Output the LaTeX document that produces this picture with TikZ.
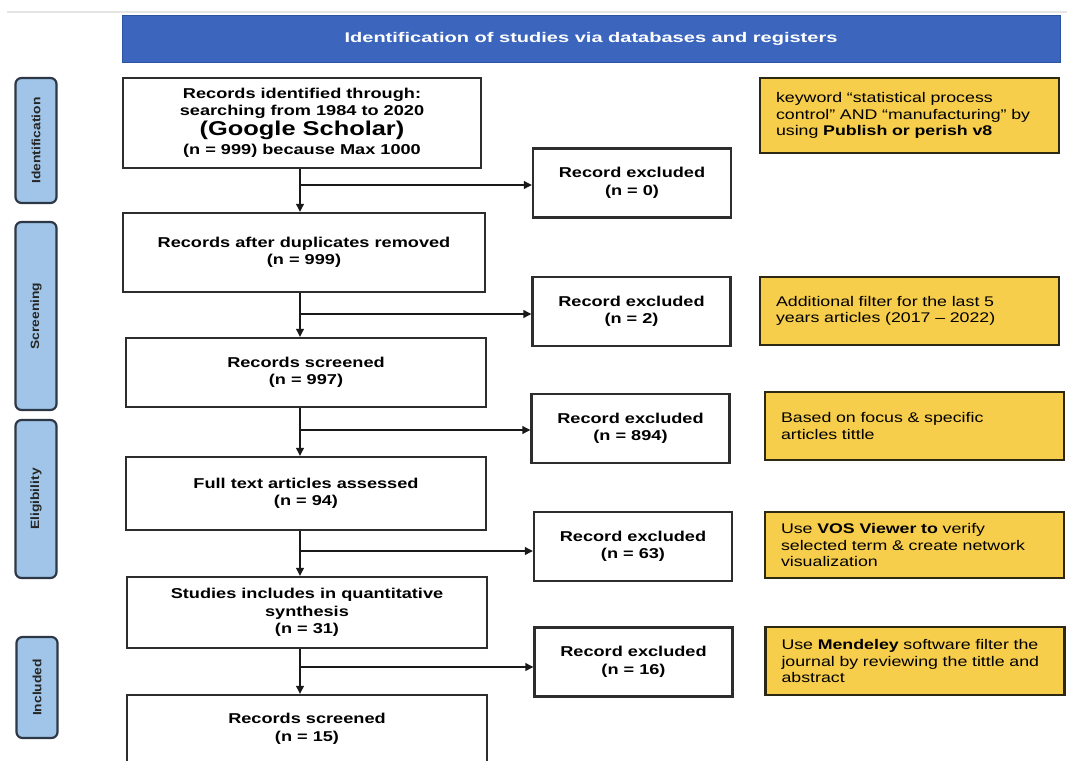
\documentclass[tikz,border=0pt]{standalone}
\usepackage{fontspec}
\setmainfont{Liberation Sans}[FakeStretch=1.27]
\newfontfamily\hdrfont{Liberation Sans}[FakeStretch=1.43]
\newfontfamily\lblfont{Liberation Sans}[FakeStretch=1.15]
\usetikzlibrary{arrows.meta}
\definecolor{hdrblue}{RGB}{60,102,190}
\definecolor{hdrborder}{RGB}{44,82,160}
\definecolor{notefill}{RGB}{247,206,75}
\definecolor{noteborder}{RGB}{45,40,20}
\definecolor{phasefill}{RGB}{160,197,232}
\definecolor{phaseborder}{RGB}{45,55,70}
\definecolor{boxborder}{RGB}{45,45,45}
\begin{document}
\begin{tikzpicture}[x=1pt,y=-1pt,
  mainbox/.style={draw=boxborder, line width=2.1pt, fill=white, align=center,
    font=\bfseries\fontsize{14.3}{17.5}\selectfont, inner sep=0pt},
  exclbox/.style={mainbox, minimum width=198pt, minimum height=69pt},
  notebox/.style={draw=noteborder, line width=2.1pt, fill=notefill, align=left,
    font=\fontsize{14}{16.5}\selectfont, inner xsep=16pt, inner ysep=0pt,
    minimum width=299pt, text width=267pt},
  phase/.style={draw=phaseborder, line width=2.2pt, fill=phasefill, rounded corners=6pt,
    minimum height=41pt, font=\lblfont\bfseries\fontsize{12}{14}\selectfont,
    text=black!85, rotate=90, inner sep=0pt},
  header/.style={draw=hdrborder, line width=1pt, fill=hdrblue, text=white,
    font=\hdrfont\bfseries\fontsize{14}{16}\selectfont, minimum width=938pt,
    minimum height=46pt, inner sep=0pt},
  conn/.style={draw=black!90, line width=2.3pt},
  arr/.style={conn, -{Triangle[length=8pt,width=7.5pt]}}]
\useasboundingbox (0,0) rectangle (1067,760);
\fill[white] (0,0) rectangle (1067,760);
\draw[gray!20, line width=1.2pt] (7,12) -- (1067,12);

% header
\node[header] (hd) at (591,39) {Identification of studies via databases and registers};

% phase labels (rotated: minimum width is the vertical length)
\node[phase, minimum width=125pt] (pid) at (36,140.5) {Identification};
\node[phase, minimum width=188pt] (psc) at (36,316) {Screening};
\node[phase, minimum width=158pt] (pel) at (36,499) {Eligibility};
\node[phase, minimum width=101pt] (pin) at (37,687.5) {Included};

% main boxes
\node[mainbox, minimum width=358pt, minimum height=90pt] (b1) at (302,123)
  {Records identified through:\\ searching from 1984 to 2020\\[1.5pt]
   {\fontsize{20}{20}\selectfont (Google Scholar)}\\[1.5pt] (n = 999) because Max 1000};
\node[mainbox, minimum width=362pt, minimum height=79pt] (b2) at (304,252.5)
  {Records after duplicates removed\\ (n = 999)};
\node[mainbox, minimum width=360pt, minimum height=69pt] (b3) at (306,372.5)
  {Records screened\\ (n = 997)};
\node[mainbox, minimum width=360pt, minimum height=73pt] (b4) at (306,493.5)
  {Full text articles assessed\\ (n = 94)};
\node[mainbox, minimum width=360pt, minimum height=71pt] (b5) at (307,612.5)
  {Studies includes in quantitative\\ synthesis\\ (n = 31)};
\node[mainbox, minimum width=360pt, minimum height=68pt] (b6) at (307,729)
  {Records screened\\ (n = 15)};

% excluded boxes
\node[exclbox] (e1) at (632,183) {Record excluded\\ (n = 0)};
\node[exclbox] (e2) at (631.5,311.5) {Record excluded\\ (n = 2)};
\node[exclbox] (e3) at (630.5,428.5) {Record excluded\\ (n = 894)};
\node[exclbox] (e4) at (633,546.5) {Record excluded\\ (n = 63)};
\node[exclbox] (e5) at (633.5,662) {Record excluded\\ (n = 16)};

% notes
\node[notebox, minimum height=75pt] (n1) at (909.5,115.5)
  {keyword “statistical process\\ control” AND “manufacturing” by\\ using \textbf{Publish or perish v8}};
\node[notebox, minimum height=68pt] (n2) at (909.5,311)
  {Additional filter for the last 5\\ years articles (2017 – 2022)};
\node[notebox, minimum height=68pt] (n3) at (914.5,426)
  {Based on focus \& specific\\ articles tittle};
\node[notebox, minimum height=66pt] (n4) at (914.5,545)
  {Use \textbf{VOS Viewer to} verify\\ selected term \& create network\\ visualization};
\node[notebox, minimum height=68pt] (n5) at (915,661)
  {Use \textbf{Mendeley} software filter the\\ journal by reviewing the tittle and\\ abstract};

% spine and connectors
\coordinate (sp) at (300,0);
\draw[arr] (b1.south -| sp) -- (b2.north -| sp);
\draw[arr] (b2.south -| sp) -- (b3.north -| sp);
\draw[arr] (b3.south -| sp) -- (b4.north -| sp);
\draw[arr] (b4.south -| sp) -- (b5.north -| sp);
\draw[arr] (b5.south -| sp) -- (b6.north -| sp);

\coordinate (h1) at (300,185);
\coordinate (h2) at (300,314);
\coordinate (h3) at (300,430);
\coordinate (h4) at (300,551);
\coordinate (h5) at (300,667);
\draw[arr] (h1) -- (h1 -| e1.west);
\draw[arr] (h2) -- (h2 -| e2.west);
\draw[arr] (h3) -- (h3 -| e3.west);
\draw[arr] (h4) -- (h4 -| e4.west);
\draw[arr] (h5) -- (h5 -| e5.west);
\end{tikzpicture}
\end{document}
